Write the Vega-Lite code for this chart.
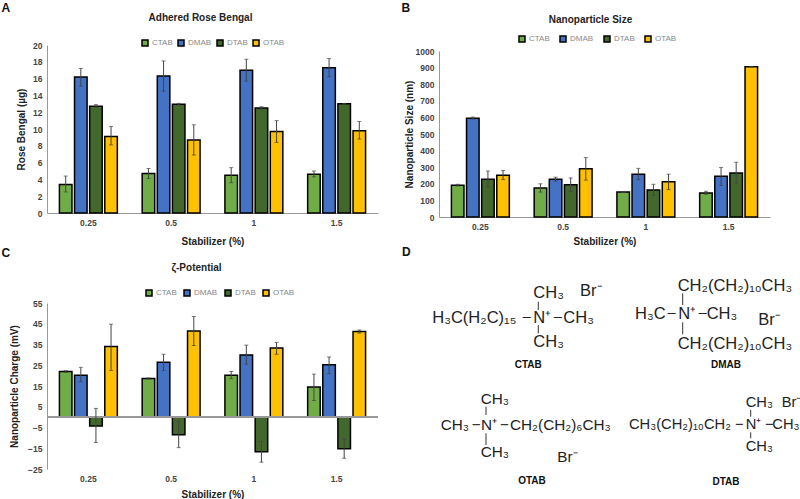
{"$schema":"https://vega.github.io/schema/vega-lite/v6.json","autosize":{"type":"none"},"padding":{"left":47,"top":45,"right":753,"bottom":454},"background":"white","bounds":"flush","columns":2,"spacing":{"row":86,"column":61},"config":{"view":{"stroke":null},"font":"Liberation Sans","axis":{"grid":false,"ticks":false,"labelFont":"Liberation Sans","labelFontWeight":"bold","labelColor":"#444","labelFontSize":8.5,"titleFont":"Liberation Sans","titleFontWeight":"bold","titleColor":"#222","titleFontSize":10,"domainColor":"#999"},"legend":{"orient":"none","direction":"horizontal","title":null,"columns":4,"symbolType":"square","symbolSize":36,"symbolStrokeColor":"black","symbolStrokeWidth":1.5,"labelColor":"#888","labelFontSize":8,"labelFont":"Liberation Sans","labelOffset":3,"symbolOpacity":1},"title":{"font":"Liberation Sans","fontWeight":"bold","fontSize":10,"color":"#222","anchor":"middle"}},"resolve":{"legend":{"color":"independent"},"scale":{"x":"independent","y":"independent"}},"datasets":{"a":[{"dose":"0.25","s":"CTAB","v":3.4,"lo":2.5,"hi":4.4},{"dose":"0.25","s":"DMAB","v":16.2,"lo":15.1,"hi":17.2},{"dose":"0.25","s":"DTAB","v":12.7,"lo":12.6,"hi":12.9},{"dose":"0.25","s":"OTAB","v":9.1,"lo":8.1,"hi":10.3},{"dose":"0.5","s":"CTAB","v":4.7,"lo":4.1,"hi":5.3},{"dose":"0.5","s":"DMAB","v":16.3,"lo":14.5,"hi":18.1},{"dose":"0.5","s":"DTAB","v":12.95,"lo":12.85,"hi":13.05},{"dose":"0.5","s":"OTAB","v":8.7,"lo":6.9,"hi":10.5},{"dose":"1","s":"CTAB","v":4.5,"lo":3.6,"hi":5.4},{"dose":"1","s":"DMAB","v":17,"lo":15.7,"hi":18.3},{"dose":"1","s":"DTAB","v":12.5,"lo":12.35,"hi":12.65},{"dose":"1","s":"OTAB","v":9.7,"lo":8.4,"hi":11},{"dose":"1.5","s":"CTAB","v":4.6,"lo":4.3,"hi":5},{"dose":"1.5","s":"DMAB","v":17.3,"lo":16.2,"hi":18.4},{"dose":"1.5","s":"DTAB","v":13,"lo":13,"hi":13},{"dose":"1.5","s":"OTAB","v":9.8,"lo":8.8,"hi":10.9}],"b":[{"dose":"0.25","s":"CTAB","v":192,"lo":187,"hi":197},{"dose":"0.25","s":"DMAB","v":595,"lo":590,"hi":602},{"dose":"0.25","s":"DTAB","v":228,"lo":180,"hi":277},{"dose":"0.25","s":"OTAB","v":252,"lo":225,"hi":280},{"dose":"0.5","s":"CTAB","v":175,"lo":150,"hi":200},{"dose":"0.5","s":"DMAB","v":227,"lo":215,"hi":240},{"dose":"0.5","s":"DTAB","v":195,"lo":155,"hi":235},{"dose":"0.5","s":"OTAB","v":290,"lo":222,"hi":358},{"dose":"1","s":"CTAB","v":150,"lo":149,"hi":151},{"dose":"1","s":"DMAB","v":258,"lo":225,"hi":293},{"dose":"1","s":"DTAB","v":163,"lo":130,"hi":197},{"dose":"1","s":"OTAB","v":213,"lo":165,"hi":258},{"dose":"1.5","s":"CTAB","v":145,"lo":137,"hi":155},{"dose":"1.5","s":"DMAB","v":245,"lo":190,"hi":298},{"dose":"1.5","s":"DTAB","v":265,"lo":200,"hi":330},{"dose":"1.5","s":"OTAB","v":905,"lo":905,"hi":905}],"c":[{"dose":"0.25","s":"CTAB","v":22,"lo":21.6,"hi":22.4},{"dose":"0.25","s":"DMAB","v":20.2,"lo":17,"hi":24},{"dose":"0.25","s":"DTAB","v":-4.3,"lo":-12.2,"hi":4.2},{"dose":"0.25","s":"OTAB","v":34,"lo":22.5,"hi":44.8},{"dose":"0.5","s":"CTAB","v":18.6,"lo":18.3,"hi":18.9},{"dose":"0.5","s":"DMAB","v":26.5,"lo":22.5,"hi":30.3},{"dose":"0.5","s":"DTAB","v":-8.5,"lo":-14.7,"hi":-2},{"dose":"0.5","s":"OTAB","v":41.5,"lo":34.5,"hi":48.5},{"dose":"1","s":"CTAB","v":20.2,"lo":18.5,"hi":22},{"dose":"1","s":"DMAB","v":30,"lo":25.5,"hi":34.7},{"dose":"1","s":"DTAB","v":-16.7,"lo":-21.7,"hi":-11.7},{"dose":"1","s":"OTAB","v":33.3,"lo":30.3,"hi":36},{"dose":"1.5","s":"CTAB","v":14.5,"lo":8,"hi":20.7},{"dose":"1.5","s":"DMAB","v":25.3,"lo":21,"hi":29},{"dose":"1.5","s":"DTAB","v":-15.2,"lo":-19.8,"hi":-10.5},{"dose":"1.5","s":"OTAB","v":41.3,"lo":40.5,"hi":42}],"formula":[{"t":"CH₃","x":133.3,"y":48},{"t":"Br⁻","x":180,"y":46},{"t":"H₃C(H₂C)₁₅","x":32.3,"y":72.7},{"t":"−","x":121.7,"y":72.7},{"t":"N⁺","x":133.3,"y":72.7},{"t":"−","x":153,"y":72.7},{"t":"CH₃","x":163.3,"y":72.7},{"t":"CH₃","x":133.3,"y":96.7},{"t":"CH₂(CH₂)₁₀CH₃","x":277.7,"y":40.7},{"t":"H₃C","x":235,"y":69.3},{"t":"−","x":266.7,"y":69.3},{"t":"N⁺","x":278.3,"y":69.3},{"t":"−","x":297.7,"y":69.3},{"t":"CH₃","x":306.7,"y":69.3},{"t":"Br⁻","x":358.3,"y":75},{"t":"CH₂(CH₂)₁₀CH₃","x":277.7,"y":99.3}],"formula2":[{"t":"CH₃","x":80.7,"y":154},{"t":"CH₃","x":40.7,"y":180},{"t":"−","x":71.7,"y":180},{"t":"N⁺","x":81,"y":180},{"t":"−","x":100,"y":180},{"t":"CH₂(CH₂)₆CH₃","x":110,"y":180},{"t":"CH₃","x":80.7,"y":207.3},{"t":"Br⁻","x":157.3,"y":212}],"formula3":[{"t":"CH₃","x":345.7,"y":158.3},{"t":"Br⁻","x":381.7,"y":157.7},{"t":"CH₃(CH₂)₁₀CH₂","x":229,"y":180},{"t":"−","x":335,"y":180},{"t":"N⁺","x":345.7,"y":180},{"t":"−","x":365,"y":180},{"t":"CH₃","x":372.3,"y":180},{"t":"CH₃","x":345.7,"y":201.7}],"names":[{"t":"CTAB","x":128.3,"y":120},{"t":"DMAB","x":326,"y":120},{"t":"OTAB","x":132,"y":236},{"t":"DTAB","x":326,"y":237.3}],"bonds":[{"x":138.3,"y":56.7,"y2":65},{"x":138.3,"y":80,"y2":88.3},{"x":282.7,"y":48.3,"y2":60},{"x":282.7,"y":77.3,"y2":89.3},{"x":86,"y":161.7,"y2":170},{"x":86,"y":188.3,"y2":200},{"x":350.7,"y":165,"y2":171.7},{"x":350.7,"y":187.3,"y2":193.3}]},"concat":[{"width":331,"height":168,"title":{"text":"Adhered Rose Bengal","dx":-12,"offset":-21},"data":{"name":"a"},"encoding":{"x":{"field":"dose","type":"nominal","title":"Stabilizer (%)","scale":{"paddingInner":0.3,"paddingOuter":0.15},"axis":{"labelAngle":0,"labelPadding":5,"titlePadding":10,"domainColor":"#999"}},"xOffset":{"field":"s","type":"nominal","scale":{"paddingInner":0.17,"paddingOuter":0}}},"layer":[{"mark":{"type":"bar","stroke":"black","strokeWidth":1.5},"encoding":{"y":{"field":"v","type":"quantitative","title":"Rose Bengal (µg)","scale":{"domain":[0,20],"nice":false},"axis":{"values":[0,2,4,6,8,10,12,14,16,18,20],"format":"d","tickCount":30,"labelOverlap":false,"labelPadding":5,"titlePadding":6}},"color":{"field":"s","type":"nominal","scale":{"domain":["CTAB","DMAB","DTAB","OTAB"],"range":["#70AD47","#4472C4","#43682B","#FFC000"]},"legend":{"legendX":94,"legendY":-6,"columnPadding":2}}}},{"mark":{"type":"rule","color":"#444","strokeWidth":1},"encoding":{"y":{"field":"lo","type":"quantitative"},"y2":{"field":"hi"}}},{"mark":{"type":"tick","color":"#444","size":4,"thickness":1},"encoding":{"y":{"field":"lo","type":"quantitative"}}},{"mark":{"type":"tick","color":"#444","size":4,"thickness":1},"encoding":{"y":{"field":"hi","type":"quantitative"}}},{"data":{"values":[{"letter":"A"}]},"mark":{"type":"text","fontWeight":"bold","fontSize":12,"align":"left","dx":-58,"dy":-37,"color":"#111"},"encoding":{"x":{"datum":"0.25"},"xOffset":{"value":0},"y":{"datum":20},"text":{"field":"letter"}}}]},{"width":331,"height":172,"title":{"text":"Nanoparticle Size","dx":-14,"offset":-23},"data":{"name":"b"},"encoding":{"x":{"field":"dose","type":"nominal","title":"Stabilizer (%)","scale":{"paddingInner":0.3,"paddingOuter":0.15},"axis":{"labelAngle":0,"labelPadding":5,"titlePadding":6}},"xOffset":{"field":"s","type":"nominal","scale":{"paddingInner":0.17,"paddingOuter":0}}},"layer":[{"mark":{"type":"bar","stroke":"black","strokeWidth":1.5},"encoding":{"y":{"field":"v","type":"quantitative","title":"Nanoparticle Size (nm)","scale":{"domain":[0,1000],"nice":false,"range":[172,6]},"axis":{"values":[0,100,200,300,400,500,600,700,800,900,1000],"format":"d","tickCount":30,"labelOverlap":false,"labelPadding":5,"titlePadding":1}},"color":{"field":"s","type":"nominal","scale":{"domain":["CTAB","DMAB","DTAB","OTAB"],"range":["#70AD47","#4472C4","#43682B","#FFC000"]},"legend":{"legendX":79,"legendY":-10,"columnPadding":7}}}},{"mark":{"type":"rule","color":"#444","strokeWidth":1},"encoding":{"y":{"field":"lo","type":"quantitative"},"y2":{"field":"hi"}}},{"mark":{"type":"tick","color":"#444","size":4,"thickness":1},"encoding":{"y":{"field":"lo","type":"quantitative"}}},{"mark":{"type":"tick","color":"#444","size":4,"thickness":1},"encoding":{"y":{"field":"hi","type":"quantitative"}}},{"data":{"values":[{"letter":"B"}]},"mark":{"type":"text","fontWeight":"bold","fontSize":12,"align":"left","dx":-50,"dy":-43,"color":"#111"},"encoding":{"x":{"datum":"0.25"},"xOffset":{"value":0},"y":{"datum":1000},"text":{"field":"letter"}}}]},{"width":331,"height":166,"title":{"text":"ζ-Potential","dx":-16,"offset":-26},"data":{"name":"c"},"encoding":{"x":{"field":"dose","type":"nominal","title":"Stabilizer (%)","scale":{"paddingInner":0.3,"paddingOuter":0.15},"axis":{"labelAngle":0,"labelPadding":5,"titlePadding":7,"domain":false}},"xOffset":{"field":"s","type":"nominal","scale":{"paddingInner":0.17,"paddingOuter":0}}},"layer":[{"mark":{"type":"bar","stroke":"black","strokeWidth":1.5},"encoding":{"y":{"field":"v","type":"quantitative","title":"Nanoparticle Charge (mV)","scale":{"domain":[-25,55],"nice":false,"zero":false},"axis":{"values":[-25,-15,-5,5,15,25,35,45,55],"format":"d","tickCount":30,"labelOverlap":false,"labelPadding":5,"titlePadding":8}},"color":{"field":"s","type":"nominal","scale":{"domain":["CTAB","DMAB","DTAB","OTAB"],"range":["#70AD47","#4472C4","#43682B","#FFC000"]},"legend":{"legendX":98,"legendY":-14,"columnPadding":4}}}},{"mark":{"type":"rule","color":"#999","strokeWidth":1},"encoding":{"y":{"datum":0},"x":{"value":0},"x2":{"value":331},"xOffset":{"value":0}}},{"mark":{"type":"rule","color":"#444","strokeWidth":1},"encoding":{"y":{"field":"lo","type":"quantitative"},"y2":{"field":"hi"}}},{"mark":{"type":"tick","color":"#444","size":4,"thickness":1},"encoding":{"y":{"field":"lo","type":"quantitative"}}},{"mark":{"type":"tick","color":"#444","size":4,"thickness":1},"encoding":{"y":{"field":"hi","type":"quantitative"}}},{"data":{"values":[{"letter":"C"}]},"mark":{"type":"text","fontWeight":"bold","fontSize":12,"align":"left","dx":-58,"dy":-50,"color":"#111"},"encoding":{"x":{"datum":"0.25"},"xOffset":{"value":0},"y":{"datum":55},"text":{"field":"letter"}}}]},{"width":331,"height":166,"encoding":{"x":{"field":"x","type":"quantitative","axis":null,"scale":{"domain":[0,400],"range":[-39,361],"nice":false,"zero":false}},"y":{"field":"y","type":"quantitative","axis":null,"scale":{"domain":[0,254],"range":[-58,196],"nice":false,"zero":false}}},"layer":[{"data":{"name":"bonds"},"mark":{"type":"rule","color":"#333","strokeWidth":1},"encoding":{"y2":{"field":"y2"}}},{"data":{"name":"formula"},"mark":{"type":"text","align":"left","fontSize":16.5,"color":"#222","font":"Liberation Sans"},"encoding":{"text":{"field":"t"}}},{"data":{"name":"formula2"},"mark":{"type":"text","align":"left","fontSize":15.3,"color":"#222","font":"Liberation Sans"},"encoding":{"text":{"field":"t"}}},{"data":{"name":"formula3"},"mark":{"type":"text","align":"left","fontSize":14.7,"color":"#222","font":"Liberation Sans"},"encoding":{"text":{"field":"t"}}},{"data":{"name":"names"},"mark":{"type":"text","align":"center","fontSize":10,"fontWeight":"bold","color":"#111"},"encoding":{"text":{"field":"t"}}},{"data":{"values":[{"t":"D","x":2,"y":7}]},"mark":{"type":"text","align":"left","fontSize":12,"fontWeight":"bold","color":"#111"},"encoding":{"text":{"field":"t"}}}]}]}
